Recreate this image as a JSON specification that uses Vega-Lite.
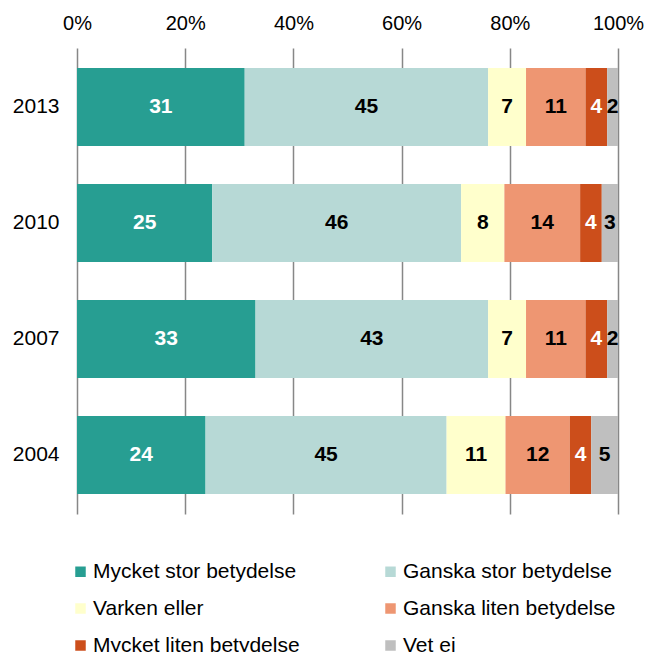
{
  "$schema": "https://vega.github.io/schema/vega-lite/v6.json",
  "width": 541,
  "height": 466,
  "autosize": {"type": "none"},
  "padding": {"left": 77, "top": 48, "right": 30, "bottom": 138},
  "config": {"font": "Liberation Sans", "view": {"stroke": null}},
  "data": {
    "values": [
      {"year": "2013", "cat": "Mycket stor betydelse", "v": 31, "k": 1},
      {"year": "2013", "cat": "Ganska stor betydelse", "v": 45, "k": 2},
      {"year": "2013", "cat": "Varken eller", "v": 7, "k": 3},
      {"year": "2013", "cat": "Ganska liten betydelse", "v": 11, "k": 4},
      {"year": "2013", "cat": "Mycket liten betydelse", "v": 4, "k": 5},
      {"year": "2013", "cat": "Vet ej", "v": 2, "k": 6},
      {"year": "2010", "cat": "Mycket stor betydelse", "v": 25, "k": 1},
      {"year": "2010", "cat": "Ganska stor betydelse", "v": 46, "k": 2},
      {"year": "2010", "cat": "Varken eller", "v": 8, "k": 3},
      {"year": "2010", "cat": "Ganska liten betydelse", "v": 14, "k": 4},
      {"year": "2010", "cat": "Mycket liten betydelse", "v": 4, "k": 5},
      {"year": "2010", "cat": "Vet ej", "v": 3, "k": 6},
      {"year": "2007", "cat": "Mycket stor betydelse", "v": 33, "k": 1},
      {"year": "2007", "cat": "Ganska stor betydelse", "v": 43, "k": 2},
      {"year": "2007", "cat": "Varken eller", "v": 7, "k": 3},
      {"year": "2007", "cat": "Ganska liten betydelse", "v": 11, "k": 4},
      {"year": "2007", "cat": "Mycket liten betydelse", "v": 4, "k": 5},
      {"year": "2007", "cat": "Vet ej", "v": 2, "k": 6},
      {"year": "2004", "cat": "Mycket stor betydelse", "v": 24, "k": 1},
      {"year": "2004", "cat": "Ganska stor betydelse", "v": 45, "k": 2},
      {"year": "2004", "cat": "Varken eller", "v": 11, "k": 3},
      {"year": "2004", "cat": "Ganska liten betydelse", "v": 12, "k": 4},
      {"year": "2004", "cat": "Mycket liten betydelse", "v": 4, "k": 5},
      {"year": "2004", "cat": "Vet ej", "v": 5, "k": 6}
    ]
  },
  "encoding": {
    "y": {
      "field": "year",
      "type": "nominal",
      "sort": ["2013", "2010", "2007", "2004"],
      "scale": {"paddingInner": 0.3276, "paddingOuter": 0.172},
      "axis": {
        "title": null,
        "ticks": false,
        "domain": false,
        "labelFontSize": 21,
        "labelColor": "black",
        "labelPadding": 18
      }
    }
  },
  "layer": [
    {
      "mark": {"type": "bar"},
      "encoding": {
        "x": {
          "field": "v",
          "type": "quantitative",
          "stack": "normalize",
          "scale": {"domain": [0, 1]},
          "axis": {
            "orient": "top",
            "title": null,
            "values": [0, 0.2, 0.4, 0.6, 0.8, 1],
            "format": ".0%",
            "grid": true,
            "gridColor": "#878787",
            "gridWidth": 1.5,
            "ticks": false,
            "tickSize": 0,
            "domain": false,
            "labelFlush": false,
            "labelFontSize": 20,
            "labelColor": "black",
            "labelPadding": 15
          }
        },
        "color": {
          "field": "cat",
          "type": "nominal",
          "scale": {
            "domain": ["Mycket stor betydelse", "Varken eller", "Mycket liten betydelse", "Ganska stor betydelse", "Ganska liten betydelse", "Vet ej"],
            "range": ["#279E92", "#FFFFCC", "#CC4E1B", "#B7D9D6", "#EE9672", "#BFBFBF"]
          },
          "legend": {
            "title": null,
            "orient": "none",
            "legendX": -7,
            "legendY": 513,
            "columns": 2,
            "columnPadding": 80,
            "rowPadding": 15,
            "symbolType": "square",
            "symbolSize": 110,
            "symbolStrokeWidth": 0,
            "labelFontSize": 21,
            "labelColor": "black",
            "labelOffset": 2,
            "labelLimit": 400
          }
        },
        "order": {"field": "k", "type": "quantitative"}
      }
    },
    {
      "mark": {"type": "text", "fontWeight": "bold", "fontSize": 21, "baseline": "middle"},
      "encoding": {
        "x": {"field": "v", "type": "quantitative", "stack": "normalize", "bandPosition": 0.5},
        "detail": {"field": "cat", "type": "nominal"},
        "order": {"field": "k", "type": "quantitative"},
        "text": {"field": "v", "type": "quantitative"},
        "color": {
          "condition": {"test": "datum.cat === 'Mycket stor betydelse' || datum.cat === 'Mycket liten betydelse'", "value": "white"},
          "value": "black"
        }
      }
    }
  ]
}
